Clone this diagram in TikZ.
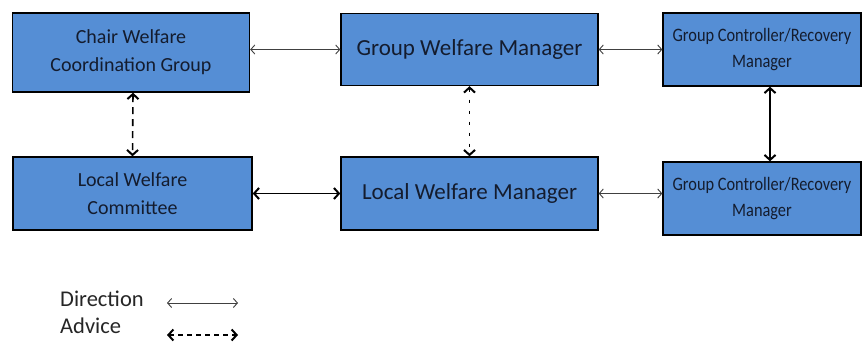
\documentclass[tikz,border=0pt]{standalone}
\usepackage{fontspec}
\setmainfont{Carlito}
\usetikzlibrary{arrows.meta}
\definecolor{boxblue}{RGB}{85,142,213}
\definecolor{txt}{RGB}{20,28,46}
\begin{document}
\begin{tikzpicture}[x=1pt,y=-1pt,
  box/.style={draw=black,line width=1.4pt,fill=boxblue,text=txt,align=center,inner sep=0pt,
    font=\fontsize{20}{28}\selectfont},
  bigbox/.style={box,font=\fontsize{23}{28}\selectfont},
  gcbox/.style={box,font=\fontsize{19}{26}\selectfont},
  thinarr/.style={draw=black!75,line width=0.9pt,{Straight Barb[length=4pt,width=9pt]}-{Straight Barb[length=4pt,width=9pt]}},
  thickarr/.style={draw=black,line width=1.6pt,{Straight Barb[length=5pt,width=11pt,line width=2pt]}-{Straight Barb[length=5pt,width=11pt,line width=2pt]}},
  legtxt/.style={text=black!85,anchor=west,inner sep=0pt,font=\fontsize{22.5}{24}\selectfont}]
\useasboundingbox[fill=white] (0,0) rectangle (862,345);
\node[box,minimum width=237pt,minimum height=79pt] (cwcg) at (131,52.5) {Chair Welfare\\Coordination Group};
\node[bigbox,minimum width=257pt,minimum height=72pt] (gwm) at (469.5,49.5) {Group Welfare Manager};
\node[gcbox,minimum width=198pt,minimum height=73pt] (gc1) at (762,49.5) {\scalebox{0.86}[1]{Group Controller/Recovery}\\\scalebox{0.86}[1]{Manager}};
\node[box,minimum width=239pt,minimum height=73pt] (lwc) at (132.5,193.5) {Local Welfare\\Committee};
\node[bigbox,minimum width=257pt,minimum height=73pt] (lwm) at (469.5,193.5) {Local Welfare Manager};
\node[gcbox,minimum width=198pt,minimum height=73pt] (gc2) at (762,198.5) {\scalebox{0.86}[1]{Group Controller/Recovery}\\\scalebox{0.86}[1]{Manager}};
% connectors
\draw[thinarr] (cwcg.east |- gwm.west) -- (gwm.west);
\draw[thinarr] (gwm.east) -- (gc1.west);
\draw[thickarr] (lwc.east) -- (lwm.west);
\draw[thinarr] (lwm.east) -- (lwm.east -| gc2.west);
\draw[thickarr,dash pattern=on 7pt off 5pt] ([xshift=2pt]cwcg.south) -- (lwc.north);
\draw[thickarr,dash pattern=on 3pt off 8pt] (gwm.south) -- (lwm.north);
\draw[thickarr,line width=1.3pt] ([xshift=8pt]gc1.south) -- ([xshift=8pt]gc2.north);
% legend
\node[legtxt] (ldir) at (60,299) {Direction};
\node[legtxt] (ladv) at (60,326) {Advice};
\coordinate (d1) at (167,303);
\coordinate (d2) at (238,303);
\coordinate (a1) at (167,335);
\coordinate (a2) at (238,335);
\draw[thinarr] (d1) -- (d2);
\draw[thickarr,dash pattern=on 5pt off 4pt] (a1) -- (a2);
\end{tikzpicture}
\end{document}
